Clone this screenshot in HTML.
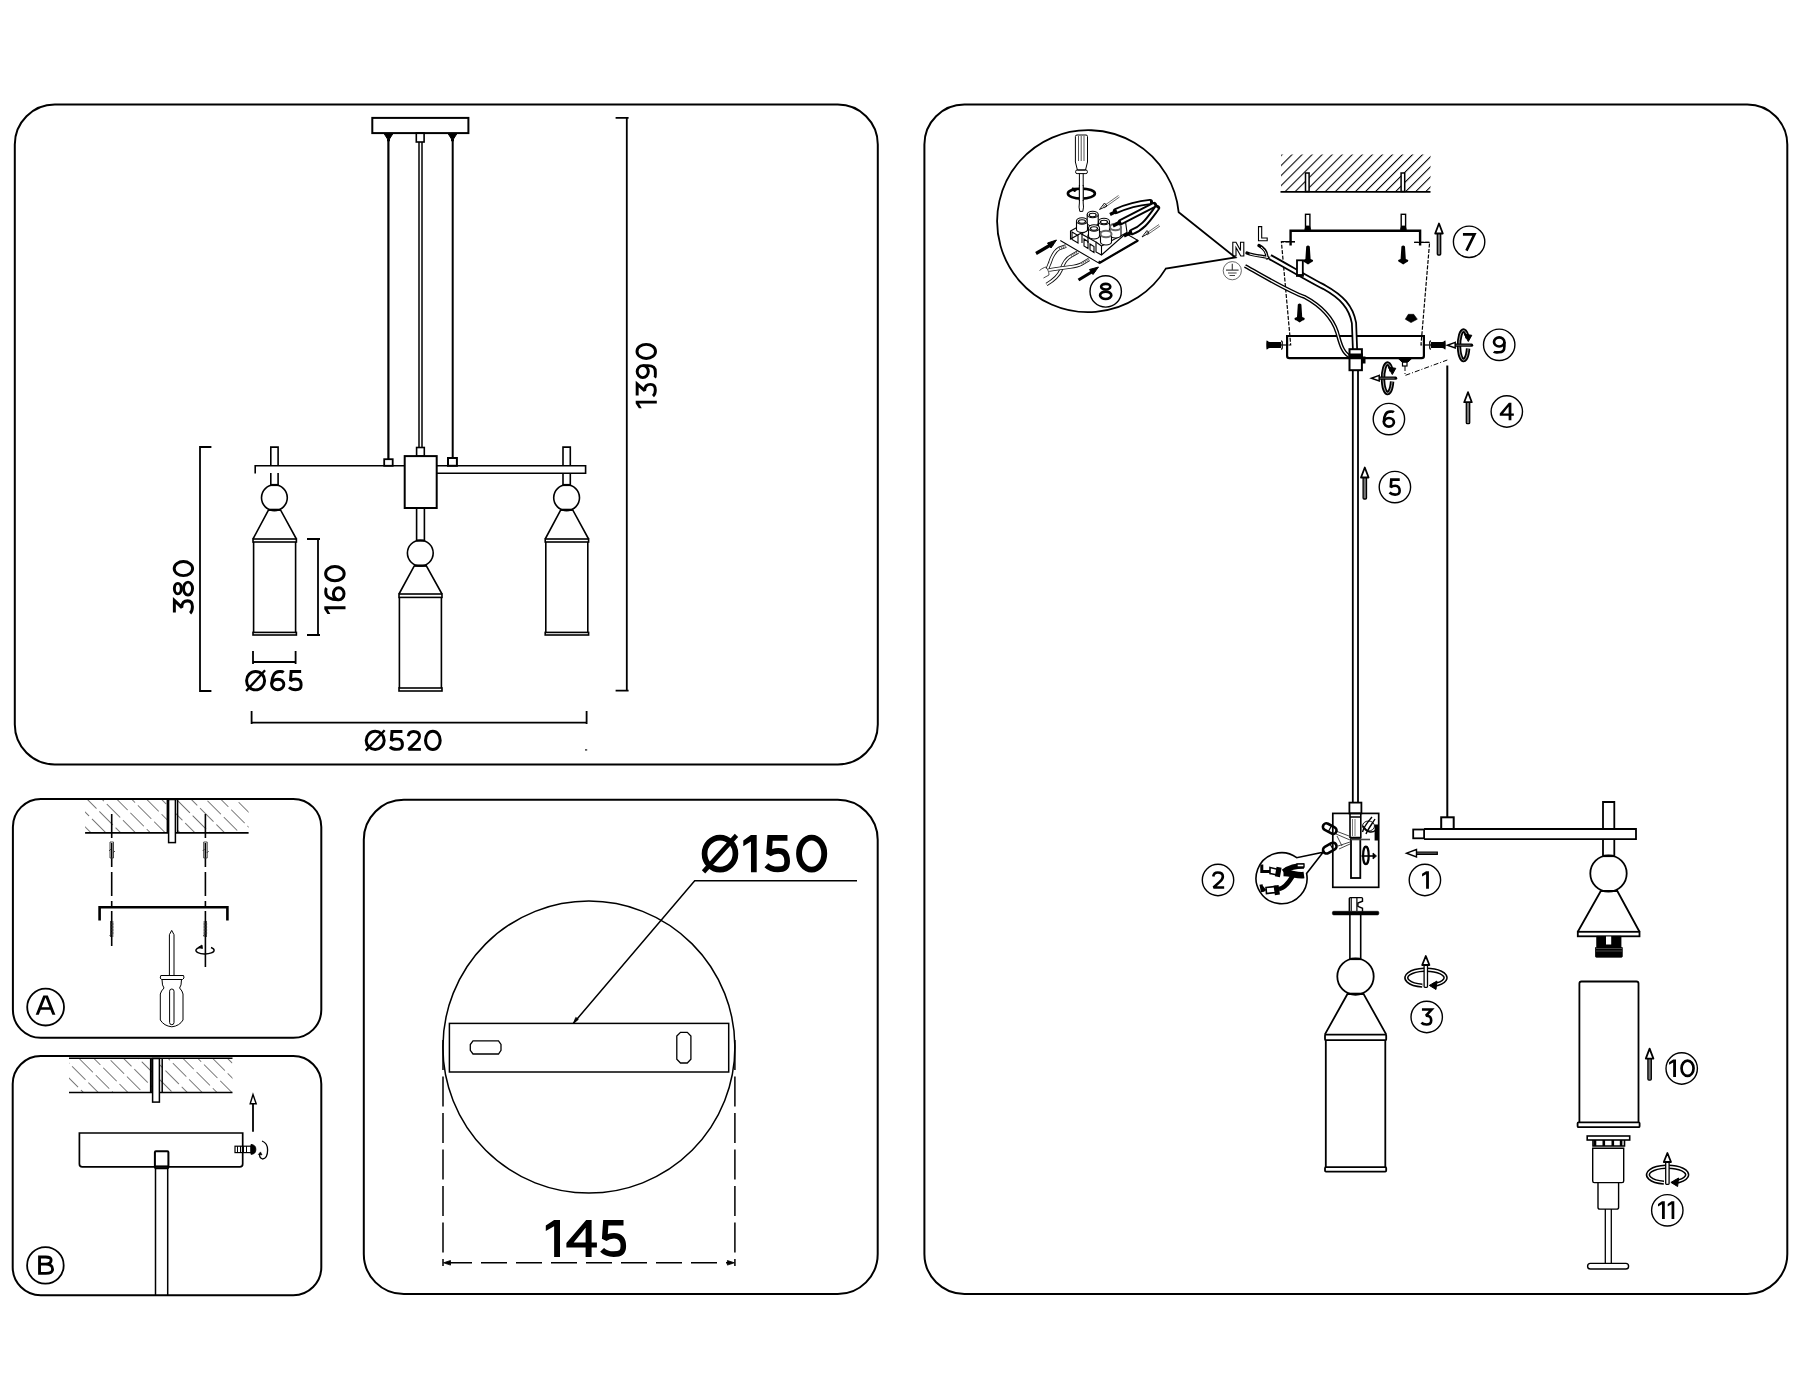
<!DOCTYPE html>
<html><head><meta charset="utf-8">
<style>
html,body{margin:0;padding:0;background:#fff;}
body{width:1800px;height:1400px;overflow:hidden;}
svg{display:block;}
text{font-family:"Liberation Sans",sans-serif;fill:#000;}
</style></head><body>
<svg width="1800" height="1400" viewBox="0 0 1800 1400">
<defs>
<pattern id="hatchA" patternUnits="userSpaceOnUse" width="10.5" height="23" patternTransform="rotate(-45)">
<line x1="0" y1="0" x2="0" y2="19" stroke="#2a2a2a" stroke-width="1.25"/>
<line x1="5.25" y1="11.5" x2="5.25" y2="30.5" stroke="#444" stroke-width="1.1" stroke-opacity="0"/>
</pattern>
</defs>
<rect width="1800" height="1400" fill="#fff"/>
<g fill="none" stroke="#000" stroke-width="2">
<rect x="14.8" y="104.6" width="863" height="659.8" rx="40"/>
<rect x="12.9" y="798.9" width="308.4" height="238.9" rx="28"/>
<rect x="12.7" y="1056" width="308.6" height="239.2" rx="28"/>
<rect x="363.8" y="799.8" width="513.9" height="494.3" rx="40"/>
<rect x="924.4" y="104.6" width="862.9" height="1189.3" rx="40"/>
</g>
<g id="p1" fill="none" stroke="#000" stroke-width="1.6">
<!-- canopy -->
<rect x="372.3" y="117.9" width="96.1" height="15.2" stroke-width="2"/>
<path d="M384,133.5 L393,133.5 L389.5,139 L389.5,141 L387.5,141 L387.5,139 Z" fill="#000" stroke-width="1"/>
<path d="M448,133.5 L457,133.5 L453.5,139 L453.5,141 L451.5,141 L451.5,139 Z" fill="#000" stroke-width="1"/>
<rect x="416.3" y="133" width="7.8" height="9"/>
<line x1="388.4" y1="140" x2="388.4" y2="459.2" stroke-width="2.2"/>
<line x1="452.7" y1="140" x2="452.7" y2="458" stroke-width="2"/>
<line x1="419" y1="142" x2="419" y2="447.5" stroke-width="1.5"/>
<line x1="422" y1="142" x2="422" y2="447.5" stroke-width="1.5"/>
<rect x="416.6" y="447.5" width="7.7" height="8.6"/>
<rect x="404.7" y="456.1" width="32" height="51.9" stroke-width="2"/>
<rect x="384.2" y="459.2" width="8.5" height="6.6" stroke-width="1.8"/>
<rect x="448" y="458" width="8.9" height="7.8" stroke-width="2"/>
<!-- arms -->
<path d="M255.2,473.4 V465.8 H404.7"/>
<path d="M436.7,465.8 H585.6 V473.3 H436.7"/>
<!-- left lamp -->
<g id="lampL">
<path d="M270.8,465.8 V447.1 H278.1 V465.8"/>
<path d="M270.8,473.1 V485 M278.1,473.1 V485"/>
<circle cx="274.4" cy="497.7" r="12.9"/>
<line x1="270.6" y1="485" x2="278.3" y2="485" stroke-width="2.2"/>
<path d="M268.7,509.7 H280.4 L296.4,539 M268.7,509.7 L253,539" />
<line x1="268.5" y1="509.8" x2="280.6" y2="509.8" stroke-width="2.2"/>
<rect x="253" y="539" width="43.4" height="3"/>
<path d="M253.6,542 V632.4 M295.6,542 V632.4"/>
<rect x="253" y="632.4" width="43.4" height="2.6"/>
</g>
<use href="#lampL" transform="translate(292.2,0)"/>
<!-- center lamp -->
<path d="M416.6,508 V541 M424.4,508 V541"/>
<circle cx="420.3" cy="553.1" r="12.9"/>
<line x1="416.4" y1="540.6" x2="424.6" y2="540.6" stroke-width="2.2"/>
<path d="M414.4,565.6 H426.2 L442,594 M414.4,565.6 L399,594"/>
<line x1="414.2" y1="565.7" x2="426.4" y2="565.7" stroke-width="2.2"/>
<rect x="399" y="594" width="43" height="3.4"/>
<path d="M399.4,597.6 V688 M441.4,597.6 V688"/>
<rect x="399" y="688" width="43" height="3"/>
<!-- dims -->
<path d="M615.6,117.9 H628.6 M626.8,117.9 V690.6 M615.6,690.6 H628.6" stroke-width="1.8"/>
<path d="M211.4,447 H200 V691 H211.4" stroke-width="1.8"/>
<path d="M307,539 H320 M318,539 V635 M307,635 H320" stroke-width="1.8"/>
<path d="M253,651 V664 M253,662 H295.6 M295.6,651 V664" stroke-width="1.8"/>
<path d="M251.6,711 V724 M251.6,722.6 H586.6 M586.6,711 V724" stroke-width="1.8"/>
</g>


<g id="pA" fill="none" stroke="#000">
<!-- hatch -->
<rect x="85.1" y="800" width="163.5" height="32.4" fill="url(#hatchA)" stroke="none"/>
<line x1="85.1" y1="832.9" x2="248.6" y2="832.9" stroke-width="1.6"/>
<rect x="168.6" y="799.5" width="6.8" height="43.1" stroke-width="1.5" fill="#fff"/>
<line x1="167.6" y1="799.5" x2="167.6" y2="833" stroke-width="2"/>
<line x1="177.6" y1="799.5" x2="177.6" y2="833" stroke-width="1.5"/>
<!-- dashed lines -->
<line x1="111.7" y1="814" x2="111.7" y2="907" stroke-width="1.6" stroke-dasharray="24 5"/><line x1="111.7" y1="911" x2="111.7" y2="946" stroke-width="1.6"/>
<line x1="205.4" y1="814" x2="205.4" y2="907" stroke-width="1.6" stroke-dasharray="24 5"/><line x1="205.4" y1="911" x2="205.4" y2="967" stroke-width="1.6"/>
<!-- anchors -->
<g stroke="#333" stroke-width="0.9">
<path d="M110,842 h3.5 v16 h-3.5 z M109,851 l2,-2 M113,853 l2,-2"/>
<path d="M203.7,842 h3.5 v16 h-3.5 z M202.7,851 l2,-2 M206.7,853 l2,-2"/>
<path d="M110.5,921 v16 M112.8,921 v16 M110,924 h3.5 M110,927 h3.5 M110,930 h3.5 M110,933 h3.5 M109.5,936 l2,-2"/>
<path d="M204.2,921 v16 M206.5,921 v16 M203.7,924 h3.5 M203.7,927 h3.5 M203.7,930 h3.5 M203.7,933 h3.5 M203.2,936 l2,-2"/>
</g>
<path d="M99.6,920.5 V907.2 H227.4 V920.5" stroke-width="2.6"/>
<!-- rotate ellipse -->
<path d="M211,947.5 A9.1,3.7 0 1 1 200,947.2" stroke-width="1.4"/>
<path d="M198,947.5 l4,-2.5 l0.5,3.5 z" fill="#000" stroke-width="0.8"/>
<!-- screwdriver -->
<path d="M169.4,975.3 V934.7 L171.7,930.4 L174,934.7 V975.3" stroke-width="1"/>
<path d="M160.8,975.5 H183.6 L184,978 L182.5,979.5 H161.5 L160.2,978 Z" stroke-width="1"/>
<path d="M162,979.5 Q162,986 164,988 Q161,991 160.3,994 V1020 Q164,1026 171.8,1026.8 Q179.5,1026 183,1020 V994 Q182.5,991 179.6,988 Q181.5,986 181.5,979.5" stroke-width="1"/>
<rect x="169.6" y="989" width="4.4" height="35.7" rx="2.2" stroke-width="1"/>
<circle cx="45.6" cy="1007.1" r="18.4" stroke-width="1.8"/>
</g>


<g id="pB" fill="none" stroke="#000">
<rect x="69" y="1059" width="163.5" height="33" fill="url(#hatchA)" stroke="none"/>
<line x1="69" y1="1058.3" x2="232.5" y2="1058.3" stroke-width="1.6"/>
<line x1="69" y1="1092.5" x2="232.5" y2="1092.5" stroke-width="1.6"/>
<rect x="152.6" y="1058.5" width="6.8" height="43.6" stroke-width="1.5" fill="#fff"/>
<line x1="150.9" y1="1058.5" x2="150.9" y2="1092.5" stroke-width="2"/>
<line x1="162.2" y1="1058.5" x2="162.2" y2="1092.5" stroke-width="1.5"/>
<path d="M79.4,1133 H242.7 V1164 Q242.7,1166.9 239.8,1166.9 H82.3 Q79.4,1166.9 79.4,1164 Z" stroke-width="1.7"/>
<rect x="154.9" y="1151.3" width="13.5" height="17" rx="1" stroke-width="2"/>
<line x1="154.6" y1="1166" x2="168.6" y2="1166" stroke-width="1.2"/>
<path d="M155.5,1169 V1295 M167.7,1169 V1295" stroke-width="1.5"/>
<!-- arrow -->
<path d="M253,1131.8 V1103.5" stroke-width="1.8"/>
<path d="M250.2,1103.8 L253,1094.5 L256.2,1103.8 Z" stroke-width="1.4"/>
<!-- screw -->
<rect x="235" y="1146.2" width="16" height="6.4" stroke-width="1.2"/>
<path d="M237.5,1146.2 v6.4 M240.5,1146.2 v6.4 M243.5,1146.2 v6.4 M246.5,1146.2 v6.4" stroke-width="1"/>
<path d="M251,1144.5 Q256,1145 255.8,1149.4 Q256,1154 251,1154.3 Z" fill="#000" stroke-width="1"/>
<path d="M262,1141 Q267.6,1143 267.6,1150 Q267.6,1158.5 262.5,1159 Q259.3,1158 259.5,1154" stroke-width="1.3"/>
<path d="M258.3,1154.5 l2.2,-2.6 l1.5,3 z" fill="#000" stroke-width="0.6"/>
<circle cx="45.4" cy="1265.4" r="18.3" stroke-width="1.8"/>
</g>


<g id="pD" fill="none" stroke="#000">
<circle cx="588.9" cy="1047.1" r="146" stroke-width="1.5"/>
<rect x="449.4" y="1023.4" width="279.3" height="48.6" fill="#fff" stroke-width="1.5"/>
<path d="M473,1040.8 H498.5 L501,1044.5 V1050.3 L498.5,1054 H473 L470.3,1050.3 V1044.5 Z" stroke-width="1.3"/>
<path d="M680.5,1032.3 H687.3 L690.9,1036 V1059.3 L687.3,1063 H680.5 L676.8,1059.3 V1036 Z" stroke-width="1.3"/>
<path d="M573.3,1023.4 L694.7,880.8 H857" stroke-width="1.5"/>
<path d="M573.3,1023.4 l2.5,-6 l2.5,2 z" fill="#000" stroke-width="0.8"/>
<line x1="443" y1="1040" x2="443" y2="1266" stroke-width="1.5" stroke-dasharray="30 6.5"/>
<line x1="734.9" y1="1040" x2="734.9" y2="1266" stroke-width="1.5" stroke-dasharray="30 6.5"/>
<line x1="446" y1="1262.8" x2="732" y2="1262.8" stroke-width="1.5" stroke-dasharray="26 9"/>
<path d="M443.5,1262.8 l7,-2.3 v4.6 z M734.4,1262.8 l-7,-2.3 v4.6 z" fill="#000" stroke-width="0.8"/>
</g>



<g id="pR" fill="none" stroke="#000">
<defs>
<pattern id="hatchR" patternUnits="userSpaceOnUse" width="7.1" height="8" patternTransform="rotate(45)">
<line x1="0" y1="0" x2="0" y2="8" stroke="#000" stroke-width="2.1"/>
</pattern>
<g id="circ"><circle cx="0" cy="0" r="15.7" stroke-width="1.4" fill="none"/></g>
<g id="upArrow">
<rect x="-1.7" y="-22" width="3.4" height="22.5" rx="1" fill="#777" stroke-width="1.3"/>
<path d="M-3.8,-21 L0,-31 L3.8,-21 Z" stroke-width="1.8" fill="#fff" stroke-linejoin="round"/>
</g>
<g id="blackScrew">
<path d="M-1.8,0 Q0,-2 1.8,0 L2.6,12.5 L5,13.5 Q5.5,15.5 3,16 L0,18 L-3,16 Q-5.5,15.5 -5,13.5 L-2.6,12.5 Z" fill="#000" stroke="none"/>
</g>
<g id="sideScrew">
<path d="M0,-3 H11 Q13,-3 13,-4 L14.5,-4.5 Q15,0 14.5,4.5 L13,4 Q13,3 11,3 H0 Z" fill="#000" stroke="none"/>
<path d="M-1,0 Q-2,-4 0,-4.2 M-1,0 Q-2,4 0,4.2" stroke-width="1.2"/>
</g>
</defs>
<!-- ceiling hatch -->
<rect x="1281" y="154.5" width="149.5" height="37" fill="url(#hatchR)" stroke="none"/>
<line x1="1280.5" y1="191.8" x2="1430.5" y2="191.8" stroke-width="1.8"/>
<rect x="1305.5" y="173" width="3.6" height="18.5" fill="#fff" stroke-width="1.5"/>
<rect x="1401.1" y="173" width="3.6" height="18.5" fill="#fff" stroke-width="1.5"/>
<!-- bracket -->
<path d="M1290.6,245.5 V230.8 H1420.1 V245.5" stroke-width="2.4"/>
<rect x="1305.5" y="214.3" width="4.4" height="15" stroke-width="1.4"/>
<path d="M1304.8,229.5 L1306,226 H1309.5 L1310.6,229.5 Z" fill="#000" stroke-width="0.8"/>
<rect x="1401.2" y="214.3" width="4.4" height="15" stroke-width="1.4"/>
<path d="M1400.5,229.5 L1401.7,226 H1405.2 L1406.3,229.5 Z" fill="#000" stroke-width="0.8"/>
<!-- dashed canopy -->
<path d="M1295,241.8 H1281.4 L1290.7,345 H1287.3 M1414.2,242.4 H1429.6 L1421,345 H1424" stroke-width="1.2" stroke-dasharray="4 1.5"/>
<line x1="1281.4" y1="241.6" x2="1295" y2="241.6" stroke-width="1.2"/>
<line x1="1414.2" y1="242.4" x2="1429.6" y2="242.4" stroke-width="1.2"/>
<use href="#blackScrew" x="1308" y="246.4"/>
<use href="#blackScrew" x="1403.2" y="246.4"/>
<use href="#blackScrew" x="1299.6" y="304.5"/>
<path d="M1408.3,314.3 H1413.7 L1417.3,319.2 L1411,322.6 L1405.3,319.2 Z" fill="#000" stroke="#000" stroke-width="0.6" stroke-linejoin="round"/>
<!-- canopy box -->
<path d="M1287.1,336 V356 Q1287.1,358.2 1289.5,358.2 H1421.5 Q1423.9,358.2 1423.9,356 V336 Z" stroke-width="2.2"/>
<use href="#sideScrew" transform="translate(1281,345) scale(-1,1)"/>
<use href="#sideScrew" transform="translate(1431,345)"/>
<path d="M1424,345 H1431" stroke-width="1.2"/>
<path d="M1281,345 H1287" stroke-width="1.2"/>
<!-- bottom stud of canopy -->
<path d="M1398,358.2 L1402,362 H1408 L1412,358.2" fill="#000" stroke-width="1"/>
<rect x="1402.5" y="362" width="4.5" height="4" stroke-width="1.2"/>
<path d="M1405,366 V375.5 L1447.3,360" stroke-width="1" stroke-dasharray="5 2 1 2"/>
<!-- cables -->
<path d="M1270,257 C1290,268 1310,280 1324,287 C1342,297 1351,307 1354,323 L1355,349" stroke-width="6"/>
<path d="M1270,257 C1290,268 1310,280 1324,287 C1342,297 1351,307 1354,323 L1355,349" stroke-width="2.5" stroke="#fff"/>
<path d="M1245,266 C1270,280 1290,292 1304.3,296.8 C1325,308 1333,320 1337,332 C1340,342 1342,352 1349,356" stroke-width="4"/>
<path d="M1245,266 C1270,280 1290,292 1304.3,296.8 C1325,308 1333,320 1337,332 C1340,342 1342,352 1349,356" stroke-width="1.2" stroke="#fff"/>
<path d="M1247,253 C1255,256 1262,256 1268,257.5 M1259,245.5 C1264,248 1267,253 1267,258" stroke-width="3.3" stroke-linecap="round"/>
<path d="M1249.5,254 C1255,256 1262,256 1268,257.5 M1261,247 C1264,249 1267,253 1267,258" stroke-width="0.9" stroke="#fff"/>
<rect x="1297" y="260.3" width="5.8" height="15" stroke-width="1.8" fill="#fff"/>
<path d="M1296,275.5 H1303.8" stroke-width="2.6"/>
<!-- N L outlined -->
<path d="M1232.8,256 V242.3 H1236 L1240.5,250.5 V242.3 H1243.8 V256 H1240.8 L1236,247.6 V256 Z" stroke-width="1.1"/>
<path d="M1258.5,226.6 H1261.7 V238 H1267.2 V240.8 H1258.5 Z" stroke-width="1.1"/>
<circle cx="1232.3" cy="270.7" r="9.1" stroke-width="0.8" stroke="#444"/>
<path d="M1232.3,263.8 V270 M1226,270.2 H1238.6 M1228,273 H1236.6 M1229.5,275.5 H1235" stroke-width="1.2" stroke="#444"/>
<!-- magnifier 8 -->
<path d="M1178.7,212.3 A91,91 0 1 0 1165.8,268.6 L1235.4,257.5 Z" stroke-width="1.8" stroke-linejoin="miter"/>
<!-- screwdriver in 8 -->
<g stroke-width="1">
<path d="M1075.4,162 V136.5 Q1075.4,135 1077,135 H1086 Q1087.5,135 1087.5,136.5 V162 L1085.5,170 H1077.4 Z"/>
<path d="M1078.5,136 V161 M1081.2,136 V161 M1084,136 V161" stroke="#555"/>
<rect x="1075.6" y="170" width="11.8" height="3.6" rx="1.5"/>
<path d="M1079.4,173.6 V203 Q1078.5,207 1079.8,211.4 H1082.8 Q1084,207 1083.2,203 V173.6"/>
</g>
<ellipse cx="1081.4" cy="193.6" rx="13.5" ry="5" stroke-width="2.6"/>
<path d="M1072,188 l6,0.5 l-3.5,3.5 z" fill="#000" stroke-width="1"/>
<line x1="1081.3" y1="186" x2="1081.3" y2="200" stroke="#fff" stroke-width="4"/>
<path d="M1079.4,185 V201 M1083.2,185 V201" stroke-width="1"/>
<!-- terminal block -->
<g stroke-width="1.1">
<path d="M1060.3,240.5 L1099,263.2 L1138,240.5 L1125,233"/>
<path d="M1099,263.2 L1100,261 M1099,263.2 L1138,240.5" stroke-width="2.2"/>
<path d="M1070.5,231 L1088,221.5 L1103,230 L1125,218 L1127,232.5 L1101.5,255 L1096,252 L1096,242 L1080.5,233.5 L1070.5,239 Z" fill="#fff"/>
<path d="M1101.5,255 V246 L1127,232.5 M1101.5,246 L1096,242"/>
<path d="M1082,243 V233.5 L1088,230 M1088,243 V235 L1096,231"/>
<path d="M1072,232 L1078,235.5 V243 L1072,239.5 Z M1084,239 l4,2.5 v7 l-4,-2.5 z M1090,244 l4,2.5 v6 l-4,-2.5 z"/>
</g>
<g stroke-width="1.1" fill="#fff">
<path d="M1076.5,221 V229.5 A5.5,3 0 0 0 1087.5,229.5 V221"/><ellipse cx="1082" cy="221" rx="5.5" ry="3.2"/><ellipse cx="1082" cy="221.5" rx="3.5" ry="1.8"/>
<path d="M1087.2,214.5 V223 A5.5,3 0 0 0 1098.2,223 V214.5"/><ellipse cx="1092.7" cy="214.5" rx="5.5" ry="3.2"/><ellipse cx="1092.7" cy="215" rx="3.5" ry="1.8"/>
<path d="M1098.5,221.5 V229.5 A5.5,3 0 0 0 1109.5,229.5 V221.5"/><ellipse cx="1104" cy="221.5" rx="5.5" ry="3.2"/><ellipse cx="1104" cy="222" rx="3.5" ry="1.8"/>
<path d="M1088.5,228 V236 A5.5,3 0 0 0 1099.5,236 V228"/><ellipse cx="1094" cy="228" rx="5.5" ry="3.2"/><ellipse cx="1094" cy="228.5" rx="3.5" ry="1.8"/>
<path d="M1110,227 V235 A5.5,3 0 0 0 1121,235 V227"/><ellipse cx="1115.5" cy="227" rx="5.5" ry="3.2" stroke="#666" stroke-width="2"/>
<path d="M1100.5,234 V242 A5.5,3 0 0 0 1111.5,242 V234"/><ellipse cx="1106" cy="234" rx="5.5" ry="3.2" stroke="#666" stroke-width="2"/>
</g>
<!-- arrows in 8 -->
<path d="M1036,253.5 L1053,243.5" stroke-width="3.2"/>
<path d="M1047.5,243 L1056.5,240 L1051,248 Z" fill="#000" stroke-width="1"/>
<path d="M1078.5,280 L1095,270" stroke-width="3.2"/>
<path d="M1089.5,269.5 L1098.5,267 L1093,274.5 Z" fill="#000" stroke-width="1"/>
<path d="M1119.5,197 L1104,208 M1118.5,195.5 L1103,206.5" stroke-width="0.8" stroke="#444"/>
<path d="M1107,206 L1099.5,209.5 L1104.5,203 Z" stroke-width="0.9"/>
<path d="M1160,226 L1147,235 M1159,224.5 L1146,233.5" stroke-width="0.8" stroke="#444"/>
<path d="M1149,233 L1142,237 L1147,230.5 Z" stroke-width="0.9"/>
<!-- wires in 8 -->
<path d="M1150,202 C1140,203 1125,207 1116,211" stroke-width="6.2" stroke-linecap="round"/>
<path d="M1150,202 C1140,203 1125,207 1116,211" stroke-width="2.4" stroke="#fff"/>
<path d="M1154,205 L1121,222" stroke-width="6.2" stroke-linecap="round"/><path d="M1154,205 L1121,222" stroke-width="2.4" stroke="#fff"/>
<path d="M1157,208 C1148,220 1143,228 1132,232" stroke-width="6.2" stroke-linecap="round"/><path d="M1157,208 C1148,220 1143,228 1132,232" stroke-width="2.4" stroke="#fff"/>
<path d="M1110,214.5 L1117,211 M1121,222 L1113,226 M1132,232 L1124,236" stroke-width="3.2"/>
<g>
<path d="M1066,246 L1059,248.5 C1055,251 1052,256 1050,262.5 C1049,265 1048,267 1047.5,269" stroke="#111" stroke-width="3.6"/>
<path d="M1066,246 L1059,248.5 C1055,251 1052,256 1050,262.5 C1049,265 1048,267 1047.5,269" stroke="#fff" stroke-width="1.9"/>
<path d="M1078,252 L1071,256 C1067,258 1063,264 1061,270 C1059,275 1054,280 1046.5,284.5" stroke="#111" stroke-width="3.6"/>
<path d="M1078,252 L1071,256 C1067,258 1063,264 1061,270 C1059,275 1054,280 1046.5,284.5" stroke="#fff" stroke-width="1.9"/>
<path d="M1089,259.5 L1081.5,264 C1078,266 1074,266.5 1070,267 C1062,268 1055,269 1049,270" stroke="#111" stroke-width="3.6"/>
<path d="M1089,259.5 L1081.5,264 C1078,266 1074,266.5 1070,267 C1062,268 1055,269 1049,270" stroke="#fff" stroke-width="1.9"/>
<path d="M1039.5,270.5 C1042,268.5 1044,267.5 1046,267 M1043.5,278 L1049,275 M1046,267 C1048,270 1049,272 1049,275" stroke="#222" stroke-width="0.8"/>
<path d="M1059,248.5 L1066,246 M1071,256 L1078,252 M1081.5,264 L1089,259.5" stroke="#666" stroke-width="2.6" stroke-dasharray="1 1"/>
</g>
<use href="#circ" x="1105.7" y="291.4"/>
<!-- arrow 7 -->
<use href="#upArrow" x="1439" y="254.5"/>
<use href="#circ" x="1469.1" y="241.8"/>
<!-- rotate 9 -->
<g id="rot9">
<path d="M1467.6,338 A4.6,14.8 0 1 0 1468.1,348.5" stroke-width="4.4"/>
<path d="M1467.6,338 A4.6,14.8 0 1 0 1468.1,348.5" stroke-width="0.8" stroke="#ccc"/>
<path d="M1464.3,334.2 L1471.8,335.3 L1468.3,341.5 Z" fill="#000" stroke-width="1"/>
<path d="M1454,345.2 H1471.6" stroke-width="3.2" stroke-linecap="round"/>
<path d="M1455,345.2 H1470.6" stroke-width="0.7" stroke="#888"/>
<path d="M1455.2,342.4 L1447.4,345.2 L1455.2,348 Z" stroke-width="1.5" fill="#fff"/>
</g>
<use href="#rot9" transform="translate(-76,33)"/>
<use href="#circ" x="1499.2" y="344.8"/>
<use href="#circ" x="1388.9" y="419.1"/>
<!-- arrow 4 -->
<use href="#upArrow" x="1468" y="423.2"/>
<use href="#circ" x="1506.8" y="411.5"/>
<!-- main cord line -->
<line x1="1447.3" y1="365.5" x2="1447.3" y2="818" stroke-width="2"/>
<!-- nut + main rod -->
<rect x="1349.5" y="349.2" width="12.4" height="21" stroke-width="2"/>
<path d="M1348.5,355.5 H1363" stroke-width="4"/>
<rect x="1362" y="357" width="3" height="6" fill="#000" stroke-width="1"/>
<path d="M1352.8,370.5 V802.6 M1358,370.5 V802.6" stroke-width="1.8"/>
<!-- arrow 5 -->
<use href="#upArrow" x="1364.8" y="498.5"/>
<use href="#circ" x="1394.9" y="487.1"/>
<!-- junction box -->
<rect x="1349.4" y="802.6" width="12" height="10.8" stroke-width="1.8"/>
<rect x="1332.8" y="813.4" width="45.9" height="73.9" stroke-width="1.7"/>
<path d="M1350,814 V838 M1360.8,814 V838 M1349.4,817 H1361.4 M1349.4,837.5 H1361.4" stroke-width="1.6"/>
<path d="M1352.5,819 V836 M1355,819 V836" stroke-width="0.8" stroke="#555"/>
<rect x="1351" y="839" width="9.3" height="39" stroke-width="1.8"/>
<path d="M1351,839.5 H1370" stroke-width="1.6" stroke="#444"/>
<ellipse cx="1368.5" cy="826" rx="6" ry="5" stroke-width="0.9"/>
<path d="M1362.5,832 C1364,826 1368,822 1372,817 M1366,834 C1368,829 1372,824 1375,819" stroke-width="1.4"/>
<path d="M1363,826 C1367,832 1371,834 1376,830" stroke-width="1.4"/>
<rect x="1374.6" y="824.5" width="3.6" height="16" fill="#000" stroke="none"/>
<ellipse cx="1365.9" cy="855.4" rx="2.8" ry="8.8" stroke-width="2.2"/>
<path d="M1361.5,856 H1374" stroke-width="1.6"/>
<path d="M1373,853 L1376.5,856 L1373,859 Z" fill="#000" stroke-width="0.8"/>
<path d="M1336,831 L1349,836 M1336,834 L1350,840 M1338,846 L1350,842 M1339,849 L1350,844 M1337,836 L1342,846" stroke-width="0.9" stroke="#333"/>
<g transform="rotate(28 1329.5 828.5)"><rect x="1322.5" y="825" width="14.5" height="7" rx="3.5" stroke-width="2.6"/><path d="M1330,825 V832" stroke-width="1.2"/></g>
<g transform="rotate(-30 1330 848)"><rect x="1322.5" y="844.5" width="14.5" height="7" rx="3.5" stroke-width="2.6"/><path d="M1332,844.5 V851.5" stroke-width="1.2"/></g>
<!-- magnifier 2 -->
<path d="M1296.7,857.7 A25.5,25.5 0 1 0 1306.6,873.4 L1323.1,852.2 Z" stroke-width="1.6" stroke-linejoin="miter"/>
<g stroke-width="3">
<path d="M1261.8,864.5 V871.5 H1270"/>
<path d="M1283.5,872 C1290,867 1295,866 1304,866" stroke-width="5.5"/>
<path d="M1283.5,873 C1292,873 1297,876 1304,875" stroke-width="6.5"/>
<path d="M1279,889 C1286,888 1290,880 1294,874" stroke-width="4.5"/>
<path d="M1261,884.5 L1262.5,892 M1261,886 L1265,891" stroke-width="3.2"/>
</g>
<g stroke-width="1.6" fill="#fff">
<path d="M1270,867.5 L1278.5,869.5 L1277.5,875 L1270,873.5 Z"/>
<rect x="1276.5" y="868" width="3.5" height="8" fill="#000" transform="rotate(10 1278 872)"/>
<path d="M1266,887.5 L1275.5,886.5 L1276,892.5 L1266.5,893.5 Z"/>
<rect x="1275" y="886" width="3.5" height="8" fill="#000" transform="rotate(-8 1277 890)"/>
<rect x="1297" y="864" width="7" height="3" stroke-width="1.4"/>
</g>
<use href="#circ" x="1218" y="880"/>
<!-- arm -->
<rect x="1413.2" y="829.5" width="10.9" height="8.8" stroke-width="1.8"/>
<path d="M1424.1,829 H1636 V839.1 H1424.1" stroke-width="1.8"/>
<rect x="1441.2" y="817.3" width="12.5" height="11.7" stroke-width="2"/>
<!-- arrow 1 -->
<path d="M1437.3,852 V854.4 H1416 V852 Z" stroke-width="1.2" fill="#555"/>
<path d="M1416.5,849.5 L1406.5,853.2 L1416.5,857 Z" stroke-width="1.4" fill="#fff"/>
<use href="#circ" x="1424.9" y="880"/>
<!-- center lamp -->
<path d="M1349.3,911.5 V898.6 Q1349.3,897.6 1350.4,897.6 H1361.5 Q1362.5,897.6 1362.5,898.6 V901.2 L1357.9,903 V906.3 L1362.5,908.3 V911.5" stroke-width="1.4"/>
<path d="M1351.2,898 V911 M1356.9,898 V911" stroke-width="1.2"/>
<rect x="1332.4" y="911.3" width="46.4" height="3.6" rx="1.3" fill="#000" stroke-width="0.6"/>
<path d="M1349.9,915 V959.7 M1360.7,915 V959.7" stroke-width="1.6"/>
<circle cx="1355.5" cy="976.6" r="18.2" stroke-width="1.8"/>
<line x1="1349.5" y1="959" x2="1361" y2="959" stroke-width="2.2"/>
<path d="M1347.6,993.8 H1363.5 L1386.3,1034.6 M1347.6,993.8 L1324.8,1034.6" stroke-width="1.8"/>
<line x1="1347.3" y1="993.8" x2="1363.8" y2="993.8" stroke-width="2.2"/>
<rect x="1325" y="1034.6" width="61.2" height="5.6" rx="1" stroke-width="1.8"/>
<path d="M1325.8,1040.4 V1167.2 M1385.3,1040.4 V1167.2" stroke-width="1.8"/>
<rect x="1325" y="1167.2" width="61.2" height="4.4" rx="1" stroke-width="1.8"/>
<!-- rotate 3 -->
<g id="rot3">
<path d="M1422.3,985.6 A19.6,8 0 1 1 1433,985.2" stroke-width="4.4"/>
<path d="M1422.3,985.6 A19.6,8 0 1 1 1433,985.2" stroke-width="1.3" stroke="#fff"/>
<path d="M1429.3,985.4 L1437,981 L1436,989.5 Z" fill="#000" stroke-width="1"/>
<rect x="1424.1" y="964.5" width="3.4" height="22.8" rx="0.8" fill="#fff" stroke-width="1.3"/>
<path d="M1422.2,965 L1425.8,956 L1429.4,965 Z" stroke-width="1.8" fill="#fff" stroke-linejoin="round"/>
</g>
<use href="#circ" x="1426.7" y="1017"/>
<!-- right lamp -->
<path d="M1603,829 V802 H1614.3 V829 M1603,839.1 V855.7 M1614.3,839.1 V855.7" stroke-width="1.8"/>
<circle cx="1608.5" cy="873.5" r="18.2" stroke-width="1.8"/>
<line x1="1602.5" y1="856" x2="1614.8" y2="856" stroke-width="2.2"/>
<path d="M1600.8,891 H1617.3 L1639.5,931.8 M1600.8,891 L1577.8,931.8" stroke-width="1.8"/>
<rect x="1577.8" y="931.8" width="61.7" height="4.5" stroke-width="1.8"/>
<path d="M1596.7,936.3 H1621 V947.5 H1622.3 V956.6 Q1622.3,957.2 1621.5,957.2 H1596.3 Q1595.5,957.2 1595.5,956.6 V947.5 H1596.7 Z" fill="#000" stroke-width="0.8"/>
<rect x="1606" y="936.5" width="5.2" height="8" fill="#fff" stroke="none"/>
<path d="M1596,948.5 H1622 M1596,951 H1622" stroke="#666" stroke-width="0.7"/>
<!-- shade right -->
<path d="M1579.4,1122.3 V983.5 Q1579.4,981.5 1581.4,981.5 H1636.5 Q1638.5,981.5 1638.5,983.5 V1122.3" stroke-width="1.8"/>
<rect x="1577.6" y="1122.3" width="62" height="4.9" rx="1" stroke-width="1.8"/>
<use href="#upArrow" x="1649.6" y="1079.6"/>
<use href="#circ" x="1681.7" y="1068.5"/>
<!-- bulb holder -->
<rect x="1587.2" y="1136" width="42.5" height="4" stroke-width="1.6"/>
<path d="M1593,1140 V1146 H1624.5 V1140" stroke-width="1.6"/>
<path d="M1595,1140 V1146 M1603.8,1140 V1146 M1612.8,1140 V1146 M1621.1,1140 V1146" stroke-width="2.6"/>
<path d="M1592.7,1148.3 H1623.7 V1181 Q1623.7,1182.6 1622,1182.6 H1594.4 Q1592.7,1182.6 1592.7,1181 Z" stroke-width="1.4"/>
<path d="M1598,1182.6 V1207.5 Q1598,1209.1 1600,1209.1 H1616.6 Q1618.6,1209.1 1618.6,1207.5 V1182.6" stroke-width="1.4"/>
<path d="M1605.3,1209.1 V1263.4 M1611.3,1209.1 V1263.4" stroke-width="1.3"/>
<rect x="1587.6" y="1263.4" width="41" height="5.6" rx="2.8" stroke-width="1.4"/>
<use href="#rot3" transform="translate(241.6,197)"/>
<use href="#circ" x="1667.3" y="1210.3"/>
</g>


<rect id="dot520" x="585" y="749.2" width="2.2" height="1.4" fill="#333"/>
<g id="alltext"><g transform="translate(0,872.3)"><g transform="translate(701.7,0) scale(36.6,37.3)"><path d="M0.078,-0.5 A0.422,0.43 0 1 0 0.922,-0.5 A0.422,0.43 0 1 0 0.078,-0.5 Z" fill="none" stroke="#000" stroke-width="0.155" stroke-miterlimit="2.5"/><path d="M0.05,-0.01 L0.95,-0.99" fill="none" stroke="#000" stroke-width="0.124" stroke-miterlimit="2.5"/></g><g transform="translate(743.3,0) scale(36.216,37.3)"><path d="M0.212,0 H0.37 V-1 H0.212 L0,-0.85 V-0.7 L0.212,-0.826 Z" fill="#000" stroke="none"/></g><g transform="translate(765,0) scale(36.232,37.3)"><path d="M0.62,-0.922 H0.14 L0.11,-0.49 C0.19,-0.555 0.28,-0.575 0.365,-0.575 C0.55,-0.575 0.612,-0.45 0.612,-0.295 C0.612,-0.12 0.53,-0.077 0.355,-0.077 C0.22,-0.077 0.11,-0.12 0.04,-0.19" fill="none" stroke="#000" stroke-width="0.155" stroke-miterlimit="2.5"/></g><g transform="translate(796.1,0) scale(37.927,37.3)"><path d="M0.078,-0.5 A0.332,0.43 0 1 0 0.742,-0.5 A0.332,0.43 0 1 0 0.078,-0.5 Z" fill="none" stroke="#000" stroke-width="0.155" stroke-miterlimit="2.5"/></g></g>
<g transform="translate(0,1256.9)"><g transform="translate(545.8,0) scale(38.378,36.9)"><path d="M0.217,0 H0.37 V-1 H0.217 L0,-0.85 V-0.705 L0.217,-0.832 Z" fill="#000" stroke="none"/></g><g transform="translate(566.4,0) scale(38.125,36.9)"><path d="M0.661,0 H0.504 V-0.255 H0 V-0.38 L0.519,-1 H0.661 V-0.39 H0.8 V-0.255 H0.661 Z M0.504,-0.39 V-0.79 L0.19,-0.39 Z" fill="#000" fill-rule="evenodd" stroke="none"/></g><g transform="translate(600.6,0) scale(36.957,36.9)"><path d="M0.62,-0.925 H0.14 L0.11,-0.49 C0.19,-0.555 0.28,-0.575 0.365,-0.575 C0.55,-0.575 0.615,-0.45 0.615,-0.295 C0.615,-0.12 0.53,-0.075 0.355,-0.075 C0.22,-0.075 0.11,-0.12 0.04,-0.19" fill="none" stroke="#000" stroke-width="0.15" stroke-miterlimit="2.5"/></g></g>
<g transform="translate(0,750.8)"><g transform="translate(364.7,0) scale(21,20.8)"><path d="M0.07,-0.5 A0.43,0.438 0 1 0 0.93,-0.5 A0.43,0.438 0 1 0 0.07,-0.5 Z" fill="none" stroke="#000" stroke-width="0.14" stroke-miterlimit="2.5"/><path d="M0.05,-0.01 L0.95,-0.99" fill="none" stroke="#000" stroke-width="0.112" stroke-miterlimit="2.5"/></g><g transform="translate(389,0) scale(21.594,20.8)"><path d="M0.62,-0.93 H0.14 L0.11,-0.49 C0.19,-0.555 0.28,-0.575 0.365,-0.575 C0.55,-0.575 0.62,-0.45 0.62,-0.295 C0.62,-0.12 0.53,-0.07 0.355,-0.07 C0.22,-0.07 0.11,-0.12 0.04,-0.19" fill="none" stroke="#000" stroke-width="0.14" stroke-miterlimit="2.5"/></g><g transform="translate(406.7,0) scale(20.286,20.8)"><path d="M0.075,-0.70 C0.1,-0.90 0.20,-0.93 0.335,-0.93 C0.50,-0.93 0.63,-0.85 0.63,-0.69 C0.63,-0.56 0.53,-0.47 0.43,-0.38 L0.09,-0.07 H0.7" fill="none" stroke="#000" stroke-width="0.14" stroke-miterlimit="2.5"/></g><g transform="translate(424,0) scale(21.585,20.8)"><path d="M0.07,-0.5 A0.34,0.438 0 1 0 0.75,-0.5 A0.34,0.438 0 1 0 0.07,-0.5 Z" fill="none" stroke="#000" stroke-width="0.14" stroke-miterlimit="2.5"/></g></g>
<g transform="translate(0,691.2)"><g transform="translate(245.1,0) scale(21,21.1)"><path d="M0.07,-0.5 A0.43,0.438 0 1 0 0.93,-0.5 A0.43,0.438 0 1 0 0.07,-0.5 Z" fill="none" stroke="#000" stroke-width="0.14" stroke-miterlimit="2.5"/><path d="M0.05,-0.01 L0.95,-0.99" fill="none" stroke="#000" stroke-width="0.112" stroke-miterlimit="2.5"/></g><g transform="translate(270.2,0) scale(20.972,21.1)"><path d="M0.07,-0.32 A0.29,0.25 0 1 0 0.65,-0.32 A0.29,0.25 0 1 0 0.07,-0.32 Z" fill="none" stroke="#000" stroke-width="0.14" stroke-miterlimit="2.5"/><path d="M0.07,-0.34 C0.07,-0.72 0.22,-0.93 0.42,-0.93 C0.52,-0.93 0.58,-0.95 0.64,-0.89" fill="none" stroke="#000" stroke-width="0.14" stroke-miterlimit="2.5"/></g><g transform="translate(288.2,0) scale(20.87,21.1)"><path d="M0.62,-0.93 H0.14 L0.11,-0.49 C0.19,-0.555 0.28,-0.575 0.365,-0.575 C0.55,-0.575 0.62,-0.45 0.62,-0.295 C0.62,-0.12 0.53,-0.07 0.355,-0.07 C0.22,-0.07 0.11,-0.12 0.04,-0.19" fill="none" stroke="#000" stroke-width="0.14" stroke-miterlimit="2.5"/></g></g>
<g transform="translate(656.8,408.2) rotate(-90)"><g transform="translate(0,0) scale(20.27,21.1)"><path d="M0.227,0 H0.37 V-1 H0.227 L0,-0.85 V-0.714 L0.227,-0.843 Z" fill="#000" stroke="none"/></g><g transform="translate(11.4,0) scale(21.061,21.1)"><path d="M0.06,-0.93 H0.61 L0.29,-0.575 C0.50,-0.58 0.59,-0.47 0.59,-0.30 C0.59,-0.13 0.49,-0.07 0.32,-0.07 C0.19,-0.07 0.09,-0.11 0.03,-0.18" fill="none" stroke="#000" stroke-width="0.14" stroke-miterlimit="2.5"/></g><g transform="translate(29.3,0) scale(19.73,21.1)"><path d="M0.07,-0.665 A0.3,0.265 0 1 0 0.67,-0.665 A0.3,0.265 0 1 0 0.07,-0.665 Z" fill="none" stroke="#000" stroke-width="0.14" stroke-miterlimit="2.5"/><path d="M0.67,-0.66 V-0.42 C0.67,-0.15 0.56,-0.07 0.36,-0.07 C0.22,-0.07 0.12,-0.05 0.06,-0.10" fill="none" stroke="#000" stroke-width="0.14" stroke-miterlimit="2.5"/></g><g transform="translate(48.2,0) scale(20.854,21.1)"><path d="M0.07,-0.5 A0.34,0.438 0 1 0 0.75,-0.5 A0.34,0.438 0 1 0 0.07,-0.5 Z" fill="none" stroke="#000" stroke-width="0.14" stroke-miterlimit="2.5"/></g></g>
<g transform="translate(193.9,613.9) rotate(-90)"><g transform="translate(0,0) scale(22.121,21)"><path d="M0.06,-0.93 H0.61 L0.29,-0.575 C0.50,-0.58 0.59,-0.47 0.59,-0.30 C0.59,-0.13 0.49,-0.07 0.32,-0.07 C0.19,-0.07 0.09,-0.11 0.03,-0.18" fill="none" stroke="#000" stroke-width="0.14" stroke-miterlimit="2.5"/></g><g transform="translate(17.5,0) scale(19.873,21)"><path d="M0.13,-0.765 A0.265,0.165 0 1 0 0.66,-0.765 A0.265,0.165 0 1 0 0.13,-0.765 Z" fill="none" stroke="#000" stroke-width="0.14" stroke-miterlimit="2.5"/><path d="M0.07,-0.28 A0.325,0.215 0 1 0 0.72,-0.28 A0.325,0.215 0 1 0 0.07,-0.28 Z" fill="none" stroke="#000" stroke-width="0.14" stroke-miterlimit="2.5"/></g><g transform="translate(36.8,0) scale(20.854,21)"><path d="M0.07,-0.5 A0.34,0.438 0 1 0 0.75,-0.5 A0.34,0.438 0 1 0 0.07,-0.5 Z" fill="none" stroke="#000" stroke-width="0.14" stroke-miterlimit="2.5"/></g></g>
<g transform="translate(345.5,614) rotate(-90)"><g transform="translate(0,0) scale(20.811,21.2)"><path d="M0.227,0 H0.37 V-1 H0.227 L0,-0.85 V-0.714 L0.227,-0.843 Z" fill="#000" stroke="none"/></g><g transform="translate(12.7,0) scale(20.833,21.2)"><path d="M0.07,-0.32 A0.29,0.25 0 1 0 0.65,-0.32 A0.29,0.25 0 1 0 0.07,-0.32 Z" fill="none" stroke="#000" stroke-width="0.14" stroke-miterlimit="2.5"/><path d="M0.07,-0.34 C0.07,-0.72 0.22,-0.93 0.42,-0.93 C0.52,-0.93 0.58,-0.95 0.64,-0.89" fill="none" stroke="#000" stroke-width="0.14" stroke-miterlimit="2.5"/></g><g transform="translate(31.7,0) scale(21.098,21.2)"><path d="M0.07,-0.5 A0.34,0.438 0 1 0 0.75,-0.5 A0.34,0.438 0 1 0 0.07,-0.5 Z" fill="none" stroke="#000" stroke-width="0.14" stroke-miterlimit="2.5"/></g></g>
<g transform="translate(0,300.2)"><g transform="translate(1098.748,0) scale(17.6,17.6)"><path d="M0.135,-0.765 A0.26,0.16 0 1 0 0.655,-0.765 A0.26,0.16 0 1 0 0.135,-0.765 Z" fill="none" stroke="#000" stroke-width="0.15" stroke-miterlimit="2.5"/><path d="M0.075,-0.28 A0.32,0.21 0 1 0 0.715,-0.28 A0.32,0.21 0 1 0 0.075,-0.28 Z" fill="none" stroke="#000" stroke-width="0.15" stroke-miterlimit="2.5"/></g></g>
<g transform="translate(0,250.6)"><g transform="translate(1462.94,0) scale(17.6,17.6)"><path d="M0,-0.925 H0.655 L0.20,0" fill="none" stroke="#000" stroke-width="0.15" stroke-miterlimit="2.5"/></g></g>
<g transform="translate(0,353.6)"><g transform="translate(1492.688,0) scale(17.6,17.6)"><path d="M0.075,-0.665 A0.295,0.26 0 1 0 0.665,-0.665 A0.295,0.26 0 1 0 0.075,-0.665 Z" fill="none" stroke="#000" stroke-width="0.15" stroke-miterlimit="2.5"/><path d="M0.665,-0.66 V-0.42 C0.665,-0.15 0.56,-0.075 0.36,-0.075 C0.22,-0.075 0.12,-0.05 0.06,-0.10" fill="none" stroke="#000" stroke-width="0.15" stroke-miterlimit="2.5"/></g></g>
<g transform="translate(0,427.9)"><g transform="translate(1382.564,0) scale(17.6,17.6)"><path d="M0.075,-0.32 A0.285,0.245 0 1 0 0.645,-0.32 A0.285,0.245 0 1 0 0.075,-0.32 Z" fill="none" stroke="#000" stroke-width="0.15" stroke-miterlimit="2.5"/><path d="M0.075,-0.34 C0.075,-0.72 0.22,-0.925 0.42,-0.925 C0.52,-0.925 0.58,-0.95 0.64,-0.89" fill="none" stroke="#000" stroke-width="0.15" stroke-miterlimit="2.5"/></g></g>
<g transform="translate(0,420.3)"><g transform="translate(1499.76,0) scale(17.6,17.6)"><path d="M0.661,0 H0.504 V-0.255 H0 V-0.38 L0.519,-1 H0.661 V-0.39 H0.8 V-0.255 H0.661 Z M0.504,-0.39 V-0.79 L0.19,-0.39 Z" fill="#000" fill-rule="evenodd" stroke="none"/></g></g>
<g transform="translate(0,495.9)"><g transform="translate(1388.828,0) scale(17.6,17.6)"><path d="M0.62,-0.925 H0.14 L0.11,-0.49 C0.19,-0.555 0.28,-0.575 0.365,-0.575 C0.55,-0.575 0.615,-0.45 0.615,-0.295 C0.615,-0.12 0.53,-0.075 0.355,-0.075 C0.22,-0.075 0.11,-0.12 0.04,-0.19" fill="none" stroke="#000" stroke-width="0.15" stroke-miterlimit="2.5"/></g></g>
<g transform="translate(0,888.8)"><g transform="translate(1211.84,0) scale(17.6,17.6)"><path d="M0.08,-0.70 C0.105,-0.90 0.20,-0.925 0.335,-0.925 C0.50,-0.925 0.625,-0.85 0.625,-0.69 C0.625,-0.56 0.53,-0.47 0.43,-0.38 L0.095,-0.075 H0.7" fill="none" stroke="#000" stroke-width="0.15" stroke-miterlimit="2.5"/></g></g>
<g transform="translate(0,888.8)"><g transform="translate(1422.068,0) scale(18.551,17.6)"><path d="M0.217,0 H0.37 V-1 H0.217 L0,-0.85 V-0.705 L0.217,-0.832 Z" fill="#000" stroke="none"/></g></g>
<g transform="translate(0,1025.8)"><g transform="translate(1420.892,0) scale(17.6,17.6)"><path d="M0.06,-0.925 H0.61 L0.29,-0.575 C0.50,-0.58 0.585,-0.47 0.585,-0.30 C0.585,-0.13 0.49,-0.075 0.32,-0.075 C0.19,-0.075 0.09,-0.11 0.03,-0.18" fill="none" stroke="#000" stroke-width="0.15" stroke-miterlimit="2.5"/></g></g>
<g transform="translate(0,1077.1)"><g transform="translate(1669.1,0) scale(18.649,17.6)"><path d="M0.217,0 H0.37 V-1 H0.217 L0,-0.85 V-0.705 L0.217,-0.832 Z" fill="#000" stroke="none"/></g><g transform="translate(1680.2,0) scale(17.927,17.6)"><path d="M0.075,-0.5 A0.335,0.433 0 1 0 0.745,-0.5 A0.335,0.433 0 1 0 0.075,-0.5 Z" fill="none" stroke="#000" stroke-width="0.15" stroke-miterlimit="2.5"/></g></g>
<g transform="translate(0,1218.9)"><g transform="translate(1658,0) scale(18.378,17.6)"><path d="M0.217,0 H0.37 V-1 H0.217 L0,-0.85 V-0.705 L0.217,-0.832 Z" fill="#000" stroke="none"/></g><g transform="translate(1667.7,0) scale(17.838,17.6)"><path d="M0.217,0 H0.37 V-1 H0.217 L0,-0.85 V-0.705 L0.217,-0.832 Z" fill="#000" stroke="none"/></g></g>
<g transform="translate(0,1014.8)"><g transform="translate(35.7,0) scale(19.7,19.4)"><path d="M0,0 L0.385,-1 H0.615 L1,0 H0.845 L0.744,-0.26 H0.256 L0.155,0 Z M0.305,-0.39 H0.695 L0.5,-0.896 Z" fill="#000" fill-rule="evenodd" stroke="none"/></g></g>
<g transform="translate(0,1274.8)"><g transform="translate(38.1,0) scale(19.157,19.2)"><path d="M0.075,0 V-0.925 H0.40 C0.60,-0.925 0.68,-0.88 0.68,-0.77 C0.68,-0.65 0.60,-0.555 0.40,-0.555 H0.075 M0.40,-0.555 C0.64,-0.555 0.755,-0.45 0.755,-0.29 C0.755,-0.13 0.62,-0.075 0.40,-0.075 H0" fill="none" stroke="#000" stroke-width="0.15" stroke-miterlimit="2.5"/></g></g></g>
</svg>
</body></html>
